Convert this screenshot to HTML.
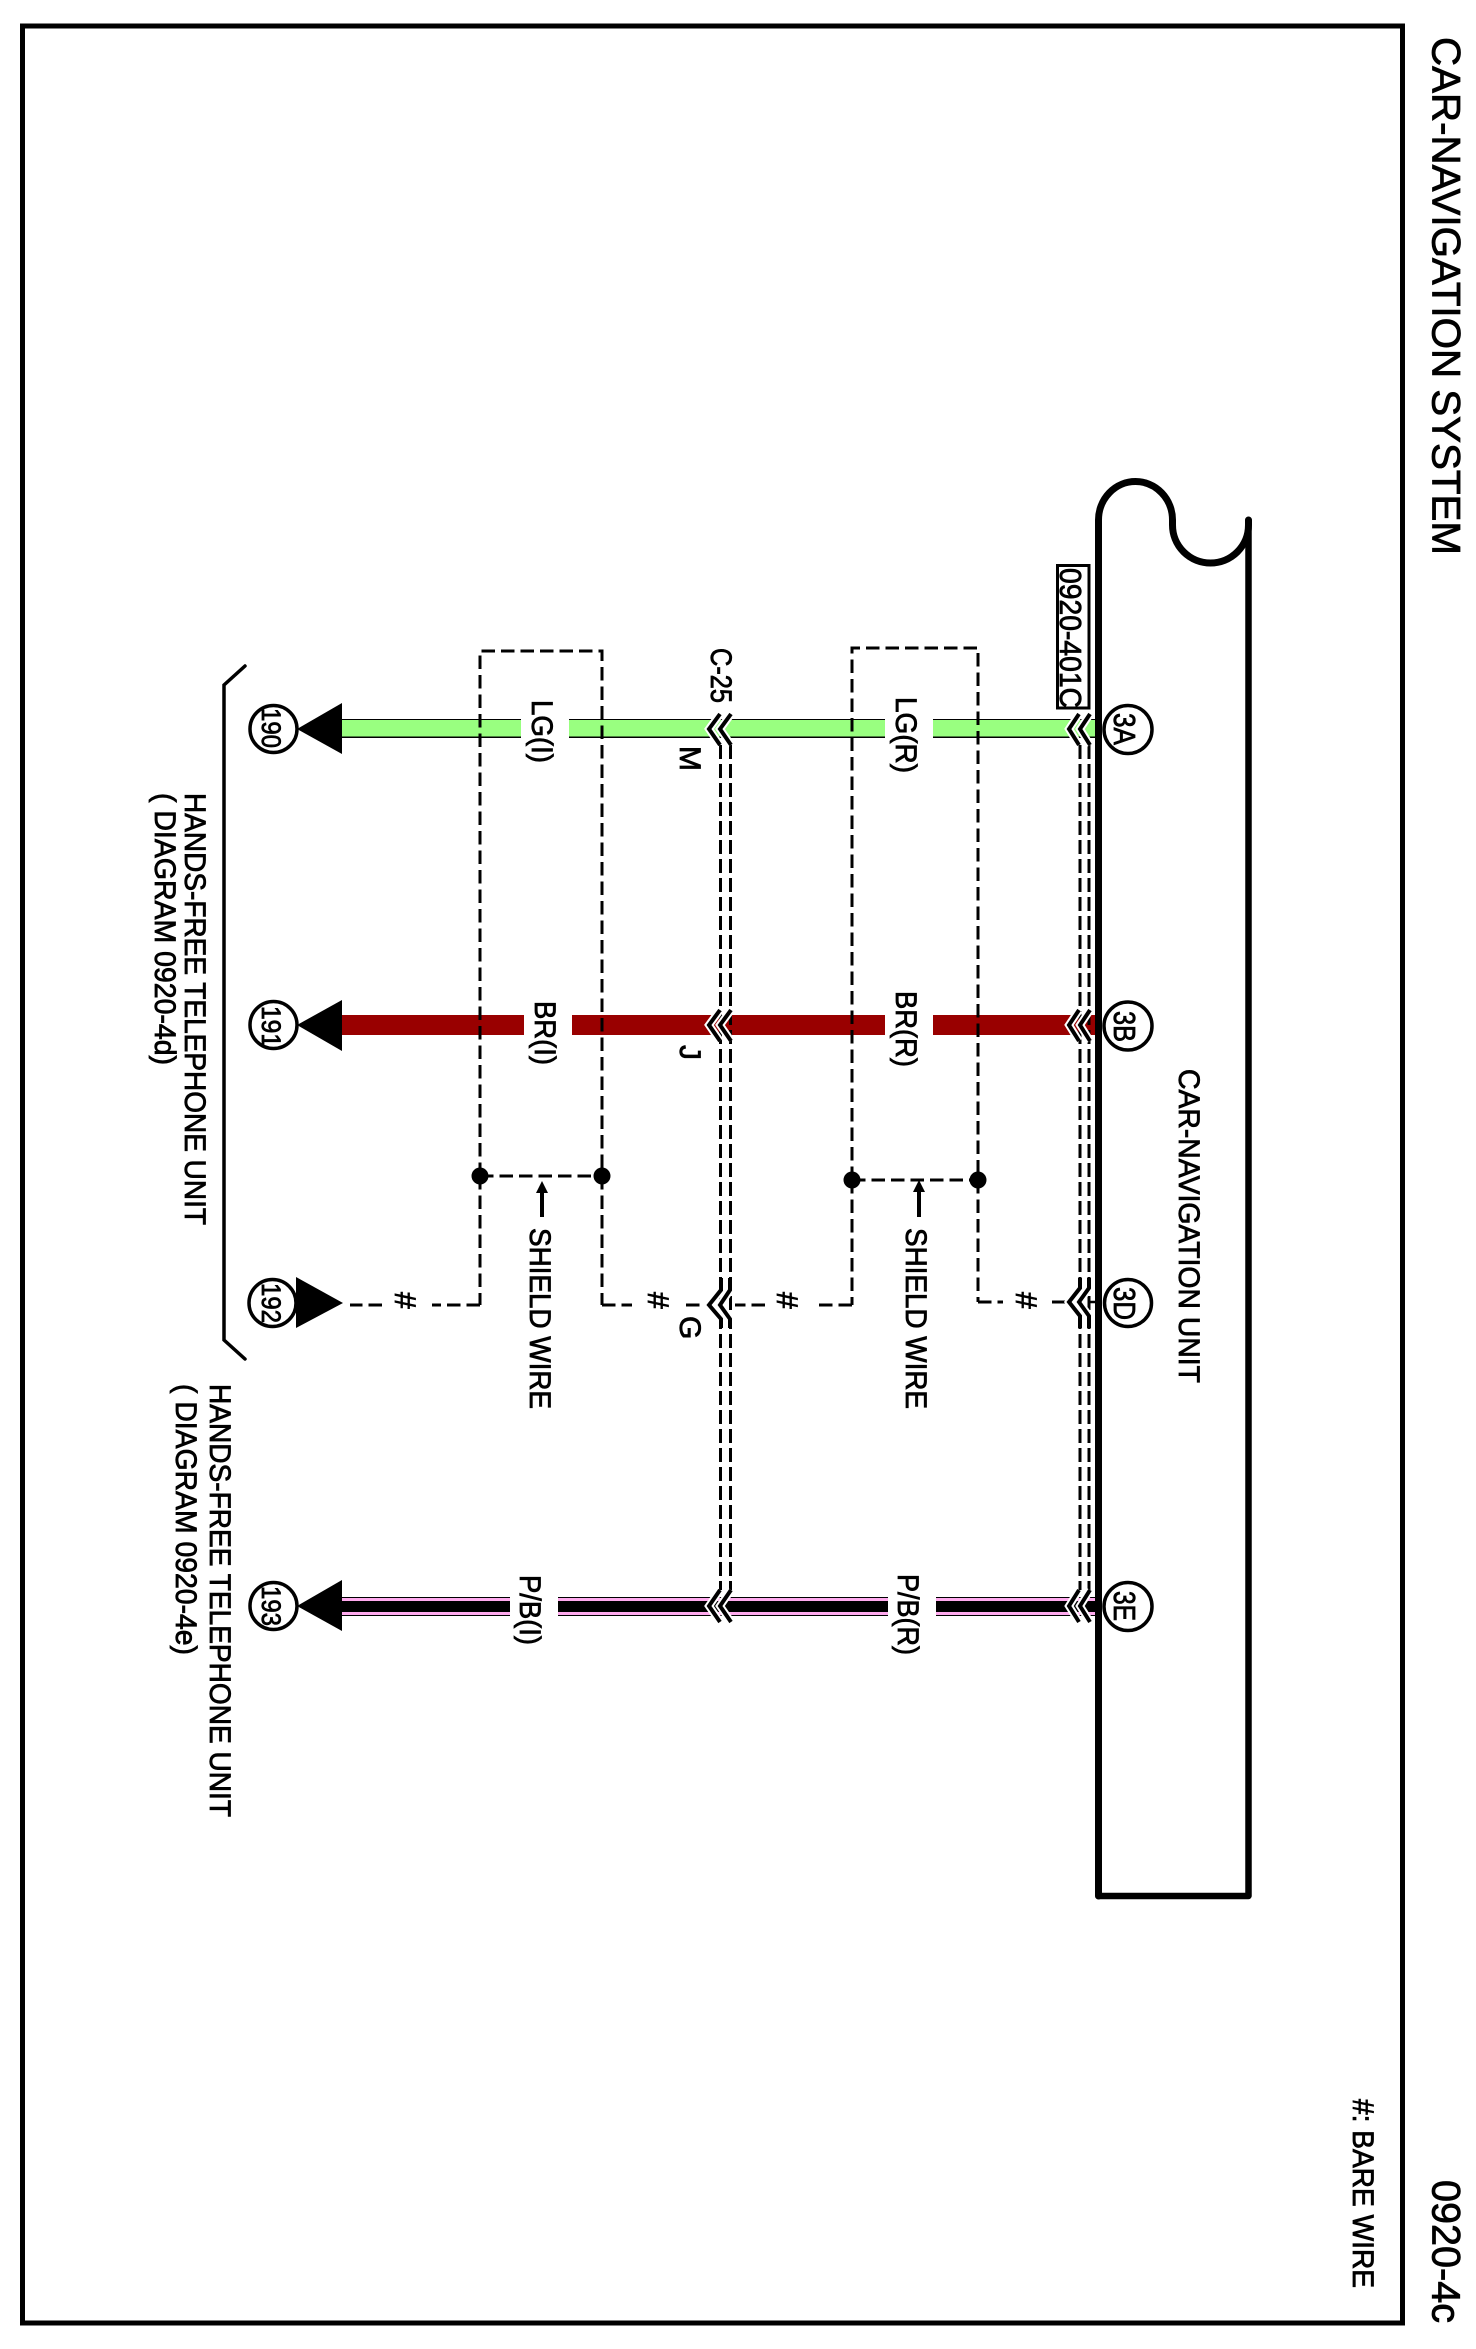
<!DOCTYPE html>
<html><head><meta charset="utf-8"><style>
html,body{margin:0;padding:0;background:#fff}
svg{display:block}
text{font-family:"Liberation Sans",sans-serif;font-size:30px;fill:#000;stroke:#000;stroke-width:.8px}
</style></head><body>
<svg width="1476" height="2349" viewBox="0 0 1476 2349" xmlns="http://www.w3.org/2000/svg">
<rect width="1476" height="2349" fill="#fff"/>
<rect x="22.5" y="26" width="1380" height="2297" fill="none" stroke="#000" stroke-width="5"/>
<!-- unit -->
<path d="M1098.5 1896V520A37 38.5 0 0 1 1172.5 520V525A38 38 0 0 0 1248.5 525V520" fill="none" stroke="#000" stroke-width="7" stroke-linejoin="round" stroke-linecap="round"/>
<path d="M1248.5 520V1896H1098.5" fill="none" stroke="#000" stroke-width="6.5" stroke-linejoin="round" stroke-linecap="round"/>
<!-- wires -->
<g>
<rect x="342" y="719" width="753" height="19" fill="#000"/><rect x="342" y="720" width="753" height="16.5" fill="#99ff80"/>
<rect x="342" y="1015" width="753" height="20" fill="#990000"/>
<rect x="342" y="1597" width="753" height="19" fill="#000"/><rect x="342" y="1598" width="753" height="17" fill="#ffaaee"/><rect x="342" y="1601" width="753" height="11" fill="#000"/>
</g>
<!-- label gaps -->
<g fill="#fff">
<rect x="521" y="715" width="48" height="28"/><rect x="885" y="715" width="48" height="28"/>
<rect x="524" y="1011" width="48" height="28"/><rect x="885" y="1011" width="48" height="28"/>
<rect x="510" y="1593" width="48" height="28"/><rect x="888" y="1593" width="48" height="28"/>
</g>
<!-- arrows -->
<g fill="#000">
<path d="M297 729L342 703V754Z"/><path d="M297 1025L342 1000V1051Z"/><path d="M297 1606L342 1580V1631Z"/>
<path d="M343 1303L296 1277V1328Z"/>
</g>
<!-- shields -->
<g fill="none" stroke="#000" stroke-width="3" stroke-dasharray="13.5 6">
<path d="M480 1176V651H602V1176"/><path d="M480 1176H602"/>
<path d="M480 1176V1305"/><path d="M602 1176V1305"/>
<path d="M480 1305H432"/><path d="M602 1305H632"/>
<path d="M382 1305H350"/><path d="M686 1305H709"/>
<path d="M852 1180V648H978V1180"/><path d="M852 1180H978"/>
<path d="M852 1180V1305"/><path d="M978 1180V1302"/>
<path d="M852 1305H814"/><path d="M978 1302H1003"/>
<path d="M765 1305H735"/><path d="M1052 1302H1068"/>
<path d="M1080 745V1590M1089 745V1590M720.5 745V1590M730.5 745V1590" stroke-dasharray="14 5"/>
</g>
<path d="M1090 1302H1098" stroke="#000" stroke-width="2.5"/>
<g fill="#000">
<circle cx="480" cy="1176" r="8.5"/><circle cx="602" cy="1176" r="8.5"/>
<circle cx="852" cy="1180" r="8.5"/><circle cx="978" cy="1180" r="8.5"/>
<path d="M542 1181l6 12h-4v24h-4v-24h-4z"/><path d="M919 1180l6 12h-4v25h-4v-25h-4z"/>
</g>
<!-- chevrons: halo -->
<g fill="none" stroke="#fff" stroke-width="8">
<path d="M1079 714L1069 729L1079 745M1090 714L1080 729L1090 745"/>
<path d="M1079 1010L1069 1025L1079 1041M1090 1010L1080 1025L1090 1041"/>
<path d="M1080 1278V1288L1069 1302L1080 1316V1328M1089 1278V1288L1079 1302L1089 1316V1328"/>
<path d="M1079 1590L1069 1606L1079 1622M1090 1590L1080 1606L1090 1622"/>
<path d="M720 714L709 729L720 745M731 714L720 729L731 745"/>
<path d="M720 1010L709 1025L720 1041M731 1010L720 1025L731 1041"/>
<path d="M721 1278V1290L709 1305L721 1319V1328M730 1278V1290L720 1305L730 1319V1328"/>
<path d="M720 1590L709 1606L720 1622M731 1590L720 1606L731 1622"/>
</g>
<g fill="none" stroke="#000" stroke-width="4">
<path d="M1079 714L1069 729L1079 745M1090 714L1080 729L1090 745"/>
<path d="M1079 1010L1069 1025L1079 1041M1090 1010L1080 1025L1090 1041"/>
<path d="M1080 1278V1288L1069 1302L1080 1316V1328M1089 1278V1288L1079 1302L1089 1316V1328"/>
<path d="M1079 1590L1069 1606L1079 1622M1090 1590L1080 1606L1090 1622"/>
<path d="M720 714L709 729L720 745M731 714L720 729L731 745"/>
<path d="M720 1010L709 1025L720 1041M731 1010L720 1025L731 1041"/>
<path d="M721 1278V1290L709 1305L721 1319V1328M730 1278V1290L720 1305L730 1319V1328"/>
<path d="M720 1590L709 1606L720 1622M731 1590L720 1606L731 1622"/>
</g>
<!-- bracket -->
<path d="M245 666L224 685V1340L245 1359" fill="none" stroke="#000" stroke-width="3.5" stroke-linecap="round"/>
<!-- circles -->
<g fill="#fff" stroke="#000" stroke-width="3.5">
<circle cx="273.5" cy="729" r="23.5"/><circle cx="273.5" cy="1025" r="23.5"/><circle cx="272.5" cy="1303" r="23.5"/><circle cx="273.5" cy="1606" r="23.5"/>
<circle cx="1128" cy="729.5" r="24"/><circle cx="1128" cy="1026" r="24"/><circle cx="1128" cy="1303" r="23.5"/><circle cx="1128" cy="1606.5" r="24"/>
</g>
<!-- connector label box -->
<text transform="translate(1060,568) rotate(90)" textLength="140" lengthAdjust="spacingAndGlyphs" style="font-size:31px">0920-401C</text>
<rect x="1057.5" y="565.5" width="31.5" height="142.5" fill="none" stroke="#000" stroke-width="3"/>
<!-- text -->
<g>
<text transform="translate(1432.5,37) rotate(90)" textLength="518" lengthAdjust="spacingAndGlyphs" style="font-size:40px">CAR-NAVIGATION SYSTEM</text>
<text transform="translate(1432.5,2180) rotate(90)" textLength="143" lengthAdjust="spacingAndGlyphs" style="font-size:40px">0920-4c</text>
<text transform="translate(1353,2099) rotate(90)" textLength="189" lengthAdjust="spacingAndGlyphs">#: BARE WIRE</text>
<text transform="translate(1179,1069) rotate(90)" textLength="314" lengthAdjust="spacingAndGlyphs">CAR-NAVIGATION UNIT</text>
<text transform="translate(185,793) rotate(90)" textLength="432" lengthAdjust="spacingAndGlyphs">HANDS-FREE TELEPHONE UNIT</text>
<text transform="translate(155,793) rotate(90)" textLength="272" lengthAdjust="spacingAndGlyphs">( DIAGRAM 0920-4d)</text>
<text transform="translate(210,1384) rotate(90)" textLength="433" lengthAdjust="spacingAndGlyphs">HANDS-FREE TELEPHONE UNIT</text>
<text transform="translate(176,1384) rotate(90)" textLength="271" lengthAdjust="spacingAndGlyphs">( DIAGRAM 0920-4e)</text>
<text transform="translate(530,1228) rotate(90)" textLength="181" lengthAdjust="spacingAndGlyphs">SHIELD WIRE</text>
<text transform="translate(906,1228) rotate(90)" textLength="181" lengthAdjust="spacingAndGlyphs">SHIELD WIRE</text>
<text transform="translate(532,700) rotate(90)" textLength="63" lengthAdjust="spacingAndGlyphs">LG(I)</text>
<text transform="translate(535,1001) rotate(90)" textLength="64" lengthAdjust="spacingAndGlyphs">BR(I)</text>
<text transform="translate(520,1575) rotate(90)" textLength="70" lengthAdjust="spacingAndGlyphs">P/B(I)</text>
<text transform="translate(896,697) rotate(90)" textLength="76" lengthAdjust="spacingAndGlyphs">LG(R)</text>
<text transform="translate(896,991) rotate(90)" textLength="76" lengthAdjust="spacingAndGlyphs">BR(R)</text>
<text transform="translate(898,1574) rotate(90)" textLength="81" lengthAdjust="spacingAndGlyphs">P/B(R)</text>
<text transform="translate(711,648) rotate(90)" textLength="55" lengthAdjust="spacingAndGlyphs">C-25</text>
<text transform="translate(680,746) rotate(90)">M</text>
<text transform="translate(680,1045) rotate(90)">J</text>
<text transform="translate(680,1316) rotate(90)">G</text>
<text transform="translate(395,1292) rotate(90)">#</text>
<text transform="translate(648,1292) rotate(90)">#</text>
<text transform="translate(777,1292) rotate(90)">#</text>
<text transform="translate(1016,1292) rotate(90)">#</text>
<text transform="translate(262,708) rotate(90)" textLength="40" lengthAdjust="spacingAndGlyphs" style="font-size:27px">190</text>
<text transform="translate(262,1006) rotate(90)" textLength="41" lengthAdjust="spacingAndGlyphs" style="font-size:27px">191</text>
<text transform="translate(262,1283) rotate(90)" textLength="40" lengthAdjust="spacingAndGlyphs" style="font-size:27px">192</text>
<text transform="translate(262,1586) rotate(90)" textLength="40" lengthAdjust="spacingAndGlyphs" style="font-size:27px">193</text>
<text transform="translate(1114,713) rotate(90)" textLength="32" lengthAdjust="spacingAndGlyphs" style="font-size:31px">3A</text>
<text transform="translate(1114,1011) rotate(90)" textLength="31" lengthAdjust="spacingAndGlyphs" style="font-size:31px">3B</text>
<text transform="translate(1114,1287) rotate(90)" textLength="33" lengthAdjust="spacingAndGlyphs" style="font-size:31px">3D</text>
<text transform="translate(1114,1591) rotate(90)" textLength="30" lengthAdjust="spacingAndGlyphs" style="font-size:31px">3E</text>
</g>
</svg>
</body></html>
